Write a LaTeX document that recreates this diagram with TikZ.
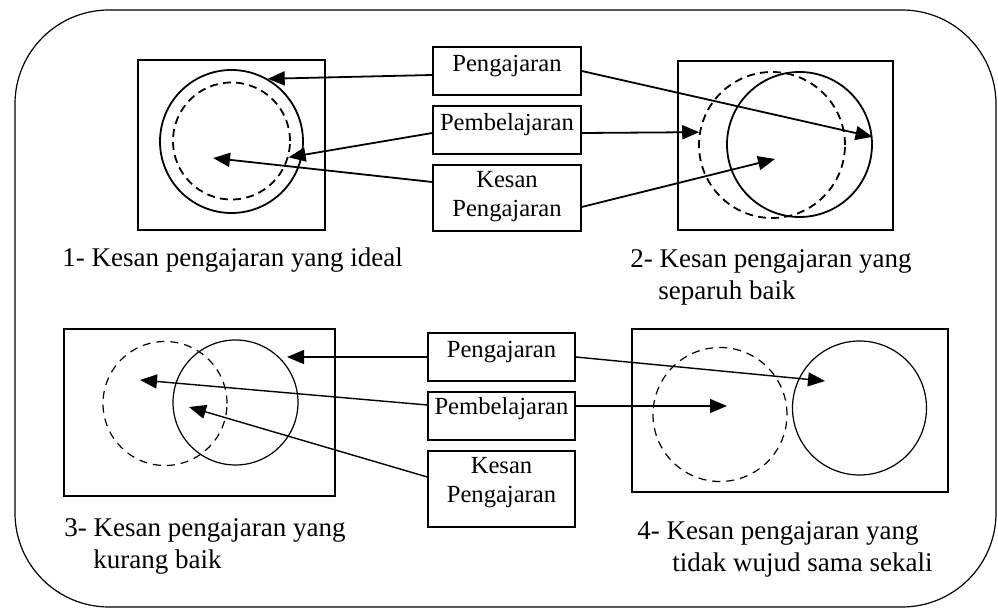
\documentclass[tikz,border=0pt]{standalone}
\usepackage{fontspec}
\setmainfont{Liberation Serif}
\usetikzlibrary{arrows.meta, positioning}

\begin{document}
\begin{tikzpicture}[
    x=0.5pt, y=-0.5pt,
    % Style definitions
    frame/.style={draw, rounded corners=47pt, line width=0.6pt, inner sep=0pt},
    panel/.style={draw, line width=0.7pt, inner sep=0pt},
    tbox/.style={draw, line width=0.7pt, minimum width=74pt, inner sep=2pt, align=center, text depth=8pt, font=\fontsize{12.3}{14.5}\selectfont},
    ring/.style={circle, draw, inner sep=0pt, line width=0.9pt},
    dring/.style={ring, dash pattern=on 4pt off 2.6pt},
    thinring/.style={circle, draw, inner sep=0pt, line width=0.6pt},
    thindring/.style={thinring, dash pattern=on 4pt off 3pt},
    arrow/.style={-{Triangle[length=8.5pt,width=7pt]}, line width=0.9pt},
    caption/.style={anchor=west, align=left, inner sep=0pt, font=\fontsize{13.5}{16}\selectfont},
]
\useasboundingbox (0,0) rectangle (998,609);

%% ---------- OUTER FRAME ----------
\node[frame, minimum width=490.5pt, minimum height=298.5pt] (frame) at (505.5,308.5) {};

%% ---------- TOP ROW: PANELS ----------
\node[panel, minimum width=93.5pt, minimum height=85pt] (p1) at (231.5,145) {};
\node[ring, minimum size=71.5pt] (c1s) at (231.5,141.5) {};
\node[dring, minimum size=58.5pt] (c1d) at (231.5,141) {};

\node[panel, minimum width=107.5pt, minimum height=84.5pt] (p2) at (785.5,145.5) {};
\node[ring, minimum size=72.5pt] (c2s) at (799.5,144.5) {};
\node[dring, minimum size=73pt] (c2d) at (772,145) {};

%% ---------- TOP ROW: LABELS ----------
\node[tbox, minimum height=24pt] (pa) at (507,71) {Pengajaran};
\node[tbox, minimum height=24pt] (pb) at (507,130) {Pembelajaran};
\node[tbox, minimum height=33pt, text depth=4pt] (pk) at (507,198) {Kesan\\Pengajaran};

\node[caption] (cap1) at (62,260) {1- Kesan pengajaran yang ideal};
\node[caption] (cap2) at (630,277) {2- Kesan pengajaran yang\\\hspace{14pt}separuh baik};

%% ---------- BOTTOM ROW: PANELS ----------
\node[panel, minimum width=135.5pt, minimum height=83.5pt] (p3) at (199.5,412.5) {};
\node[thindring, minimum size=62pt] (c3d) at (165,403.5) {};
\node[thinring, minimum size=62.5pt] (c3s) at (235.5,402.5) {};

\node[panel, minimum width=158pt, minimum height=81.5pt] (p4) at (790,410.5) {};
\node[thindring, minimum size=67pt] (c4d) at (720,414.5) {};
\node[thinring, minimum size=67pt] (c4s) at (859.5,408) {};

%% ---------- BOTTOM ROW: LABELS ----------
\node[tbox, minimum width=73.5pt, minimum height=24pt] (qa) at (501.5,357) {Pengajaran};
\node[tbox, minimum width=73.5pt, minimum height=24pt, text depth=10pt] (qb) at (501.5,416) {Pembelajaran};
\node[tbox, minimum width=73.5pt, minimum height=38pt, text depth=9pt] (qk) at (501.5,489) {Kesan\\Pengajaran};

\node[caption] (cap3) at (64,546) {3- Kesan pengajaran yang\\\hspace{14.5pt}kurang baik};
\node[caption] (cap4) at (637,549) {4- Kesan pengajaran yang\\\hspace{17.5pt}tidak wujud sama sekali};

%% ---------- ARROW TIPS ----------
\coordinate (t1k) at (213,158);
\coordinate (t2k) at (775,159);
\coordinate (t3a) at (287,357);
\coordinate (t3b) at (140,380);
\coordinate (t3k) at (189,407);
\coordinate (t4a) at (825,381);
\coordinate (t4b) at (727,406);

%% ========== ARROWS ==========

% Top row, panel 1
\draw[arrow] ([yshift=-2pt]pa.west) -- (c1s.60);
\draw[arrow] ([yshift=-1.5pt]pb.west) -- (c1d.-16);
\draw[arrow] ([yshift=8pt]pk.west) -- (t1k);

% Top row, panel 2
\draw[arrow] (pa.east) -- (c2s.6);
\draw[arrow] ([yshift=-1.5pt]pb.east) -- (c2d.170);
\draw[arrow] ([yshift=-4.5pt]pk.east) -- (t2k);

% Bottom row, panel 3
\draw[arrow, line width=0.7pt] (qa.west) -- (t3a);
\draw[arrow, line width=0.7pt] ([yshift=5.5pt]qb.west) -- (t3b);
\draw[arrow, line width=0.7pt] ([yshift=6pt]qk.west) -- (t3k);

% Bottom row, panel 4
\draw[arrow, line width=0.7pt] (qa.east) -- (t4a);
\draw[arrow, line width=0.7pt] ([yshift=5pt]qb.east) -- (t4b);

\end{tikzpicture}
\end{document}
